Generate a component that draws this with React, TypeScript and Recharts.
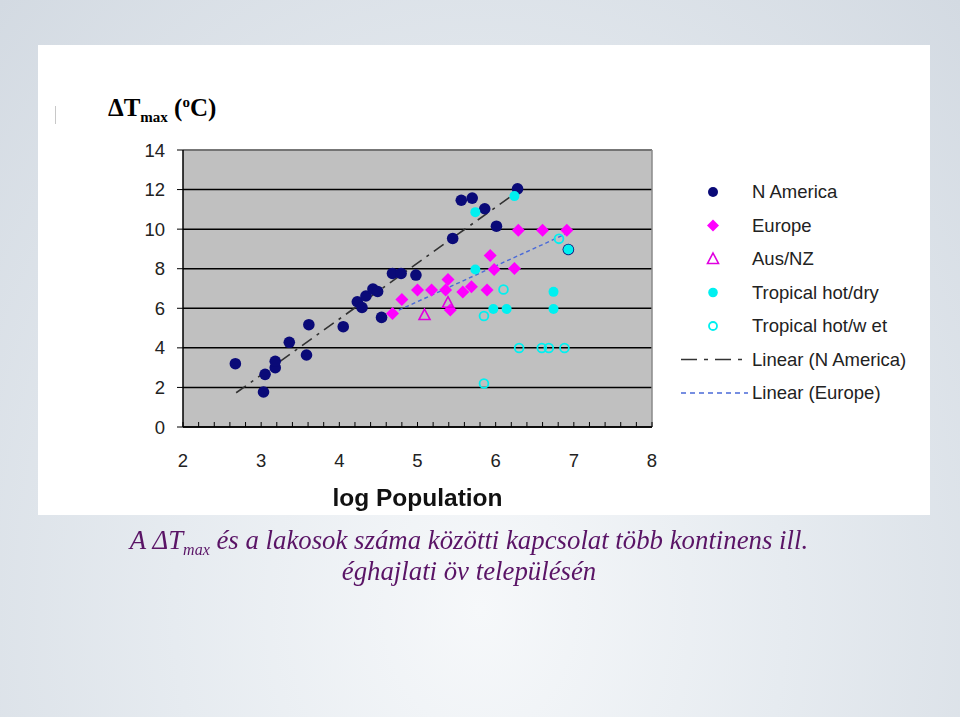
import React from 'react'
import {
  ScatterChart,
  Scatter,
  XAxis,
  YAxis,
  CartesianGrid,
  ReferenceLine,
} from 'recharts'

// [log population, ΔTmax]
const nAmerica: [number, number][] = [
  [2.67, 3.2], [3.03, 1.77], [3.05, 2.66], [3.18, 3.0], [3.18, 3.32],
  [3.36, 4.28], [3.58, 3.64], [3.61, 5.17], [4.05, 5.07], [4.23, 6.33],
  [4.29, 6.04], [4.34, 6.62], [4.43, 6.97], [4.49, 6.85], [4.54, 5.54],
  [4.68, 7.76], [4.79, 7.76], [4.98, 7.68], [5.45, 9.53], [5.56, 11.46],
  [5.7, 11.57], [5.86, 11.03], [6.01, 10.15], [6.28, 12.04], [6.93, 8.97],
]
const europe: [number, number][] = [
  [4.68, 5.74], [4.8, 6.45], [5.0, 6.92], [5.18, 6.92], [5.36, 6.92],
  [5.39, 7.46], [5.42, 5.91], [5.58, 6.82], [5.69, 7.09], [5.89, 6.92],
  [5.93, 8.67], [5.98, 7.96], [6.24, 8.01], [6.29, 9.95], [6.6, 9.95],
  [6.91, 9.95],
]
const ausNz: [number, number][] = [[5.09, 5.66], [5.39, 6.28]]
const hotDry: [number, number][] = [
  [5.74, 10.86], [6.24, 11.67], [5.74, 7.96], [5.97, 5.96], [6.14, 5.96],
  [6.74, 6.83], [6.74, 5.96], [6.93, 8.97],
]
const hotWet: [number, number][] = [
  [6.81, 9.51], [6.1, 6.95], [5.85, 5.61], [6.3, 3.99], [6.59, 3.99],
  [6.68, 3.99], [6.88, 3.99], [5.85, 2.2],
]
// trend line end points
const nAmericaFit: [number, number][] = [[2.68, 1.73], [6.28, 11.9]]
const europeFit: [number, number][] = [[4.68, 5.76], [6.91, 9.78]]

const xTickLabels = [2, 3, 4, 5, 6, 7, 8]
const yTickLabels = [0, 2, 4, 6, 8, 10, 12, 14]
const xMinorStep = 0.2

const legendNames = [
  'N America',
  'Europe',
  'Aus/NZ',
  'Tropical hot/dry',
  'Tropical hot/w et',
  'Linear (N America)',
  'Linear (Europe)',
]

const toPts = (arr: [number, number][]) => arr.map(([x, y]) => ({ x, y }))

const NAVY = '#0a0a78'
const MAGENTA = '#ff00ff'
const CYAN = '#00f0f0'
const FONT = '"Liberation Sans", Arial, sans-serif'
const SERIF = '"Liberation Serif", "Times New Roman", serif'

const xTicks: number[] = []
for (let v = xTickLabels[0]; v <= xTickLabels[xTickLabels.length - 1] + 1e-6; v += xMinorStep) {
  xTicks.push(Math.round(v * 10) / 10)
}

const Dot = (p: any) => <circle cx={p.cx} cy={p.cy} r={5.8} fill={NAVY} />
const Diamond = (p: any) => (
  <polygon
    points={`${p.cx},${p.cy - 6.5} ${p.cx + 6.5},${p.cy} ${p.cx},${p.cy + 6.5} ${p.cx - 6.5},${p.cy}`}
    fill={MAGENTA}
  />
)
const Tri = (p: any) => (
  <polygon
    points={`${p.cx},${p.cy - 6} ${p.cx + 5.5},${p.cy + 4.5} ${p.cx - 5.5},${p.cy + 4.5}`}
    fill="none"
    stroke="#e000e0"
    strokeWidth={1.6}
  />
)
const CyanDot = (p: any) => <circle cx={p.cx} cy={p.cy} r={5} fill={CYAN} />
const Ring = (p: any) => (
  <circle cx={p.cx} cy={p.cy} r={4.4} fill="none" stroke={CYAN} strokeWidth={1.8} />
)
const NoShape = () => <g />

const XTick = (p: any) => {
  const v = p.payload.value
  const isMajor = Math.abs(v - Math.round(v)) < 1e-6
  return (
    <g>
      <line x1={p.x} x2={p.x} y1={p.y} y2={p.y - 5} stroke="#000" strokeWidth={1} />
      {isMajor && (
        <text x={p.x} y={p.y + 40} textAnchor="middle" fontSize={18.5} fill="#222" fontFamily={FONT}>
          {v}
        </text>
      )}
    </g>
  )
}

const LegendBox = () => {
  const rowY = (i: number) => 17 + i * 33.5
  const mx = 38
  const tx = 77
  return (
    <svg width={260} height={240} style={{ display: 'block' }}>
      <circle cx={mx} cy={rowY(0)} r={5} fill={NAVY} />
      <polygon
        points={`${mx},${rowY(1) - 6} ${mx + 6},${rowY(1)} ${mx},${rowY(1) + 6} ${mx - 6},${rowY(1)}`}
        fill={MAGENTA}
      />
      <polygon
        points={`${mx},${rowY(2) - 6} ${mx + 5.5},${rowY(2) + 4.5} ${mx - 5.5},${rowY(2) + 4.5}`}
        fill="none"
        stroke="#e000e0"
        strokeWidth={1.6}
      />
      <circle cx={mx} cy={rowY(3)} r={4.8} fill={CYAN} />
      <circle cx={mx} cy={rowY(4)} r={4} fill="none" stroke={CYAN} strokeWidth={1.8} />
      <line x1={6} x2={73} y1={rowY(5)} y2={rowY(5)} stroke="#333" strokeWidth={1.3} strokeDasharray="16 7 4 7" />
      <line x1={6} x2={73} y1={rowY(6)} y2={rowY(6)} stroke="#4a6ad8" strokeWidth={1.3} strokeDasharray="5 4" />
      {legendNames.map((n, i) => (
        <text key={n} x={tx} y={rowY(i) + 6} fontSize={18.5} fill="#222" fontFamily={FONT}>
          {n}
        </text>
      ))}
    </svg>
  )
}

export default function App() {
  return (
    <div
      style={{
        position: 'fixed',
        left: 0,
        top: 0,
        width: 960,
        height: 717,
        overflow: 'hidden',
        background:
          'radial-gradient(ellipse at 50% 85%, #f6f8fa 0%, #e6ebf0 45%, #d3dae2 100%)',
      }}
    >
      <div
        style={{ position: 'absolute', left: 38, top: 45, width: 892, height: 470, background: '#fff' }}
      />
      <div style={{ position: 'absolute', left: 55, top: 106, width: 1, height: 18, background: '#c8c8c8' }} />
      <div
        style={{
          position: 'absolute',
          left: 108,
          top: 94,
          fontFamily: SERIF,
          fontWeight: 'bold',
          fontSize: 25,
          color: '#000',
          whiteSpace: 'nowrap',
        }}
      >
        ΔT<sub style={{ fontSize: 15 }}>max</sub> (<sup style={{ fontSize: 15 }}>o</sup>C)
      </div>
      <div style={{ position: 'absolute', left: 0, top: 0 }}>
        <ScatterChart width={960} height={717} margin={{ top: 150, right: 308, bottom: 230, left: 123 }}>
          <CartesianGrid vertical={false} stroke="#000" strokeWidth={1.5} fill="#c0c0c0" />
          <XAxis
            type="number"
            dataKey="x"
            domain={[2, 8]}
            ticks={xTicks}
            interval={0}
            height={60}
            tickSize={0}
            tickMargin={0}
            tick={<XTick />}
            axisLine={{ stroke: '#000', strokeWidth: 1.5 }}
            allowDataOverflow
          />
          <YAxis
            type="number"
            dataKey="y"
            domain={[0, 14]}
            ticks={yTickLabels}
            interval={0}
            width={60}
            tickSize={6}
            tickMargin={12}
            tick={{ fontSize: 18.5, fill: '#222', fontFamily: FONT }}
            tickLine={{ stroke: '#000' }}
            axisLine={{ stroke: '#000', strokeWidth: 1.5 }}
          />
          <ReferenceLine y={14} stroke="#8a8a8a" strokeWidth={1.5} />
          <ReferenceLine x={8} stroke="#8a8a8a" strokeWidth={1.5} />
          <Scatter name="Linear (N America)" data={toPts(nAmericaFit)} line={{ stroke: '#333', strokeWidth: 1.6, strokeDasharray: '12 6 3 6' }} shape={<NoShape />} isAnimationActive={false} />
          <Scatter name="Linear (Europe)" data={toPts(europeFit)} line={{ stroke: '#4a6ad8', strokeWidth: 1.4, strokeDasharray: '4 3' }} shape={<NoShape />} isAnimationActive={false} />
          <Scatter name="N America" data={toPts(nAmerica)} shape={<Dot />} isAnimationActive={false} />
          <Scatter name="Europe" data={toPts(europe)} shape={<Diamond />} isAnimationActive={false} />
          <Scatter name="Aus/NZ" data={toPts(ausNz)} shape={<Tri />} isAnimationActive={false} />
          <Scatter name="Tropical hot/dry" data={toPts(hotDry)} shape={<CyanDot />} isAnimationActive={false} />
          <Scatter name="Tropical hot/wet" data={toPts(hotWet)} shape={<Ring />} isAnimationActive={false} />
        </ScatterChart>
      </div>
      <div style={{ position: 'absolute', left: 675, top: 175 }}>
        <LegendBox />
      </div>
      <div
        style={{
          position: 'absolute',
          left: 0,
          top: 484,
          width: 835,
          textAlign: 'center',
          fontFamily: FONT,
          fontWeight: 'bold',
          fontSize: 24.5,
          color: '#111',
        }}
      >
        log Population
      </div>
      <div
        style={{
          position: 'absolute',
          left: 0,
          top: 525,
          width: 938,
          textAlign: 'center',
          fontFamily: SERIF,
          fontStyle: 'italic',
          fontSize: 26.8,
          lineHeight: '31px',
          color: '#5a1466',
        }}
      >
        A ΔT<sub style={{ fontSize: 16, lineHeight: 0 }}>max</sub> és a lakosok száma közötti kapcsolat több kontinens ill.
        <br />
        éghajlati öv településén
      </div>
    </div>
  )
}
